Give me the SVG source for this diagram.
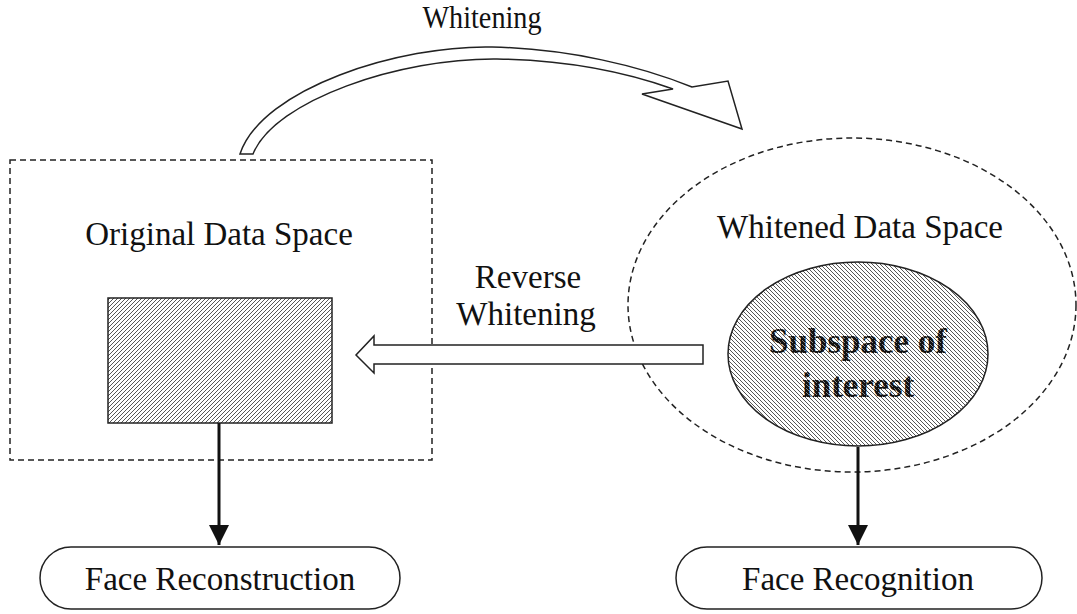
<svg xmlns="http://www.w3.org/2000/svg" width="1077" height="614" viewBox="0 0 1077 614">
<style>
text{font-family:"Liberation Serif","Times New Roman",serif;fill:#111;text-anchor:middle}
.t33{font-size:33px}
.t31{font-size:31px}
.bold{font-size:35px;font-weight:bold}
.dash{fill:none;stroke:#222;stroke-width:1.5;stroke-dasharray:6,4}
.outline{fill:#fff;stroke:#222;stroke-width:1.5}
.conn{stroke:#111;stroke-width:3;fill:none}
</style>
<defs>
<pattern id="hatchR" width="4" height="4" patternUnits="userSpaceOnUse">
<rect width="4" height="4" fill="#fff"/>
<path d="M-1,1 L1,-1 M0,4 L4,0 M3,5 L5,3" stroke="#444" stroke-width="0.9"/>
</pattern>
<pattern id="hatchL" width="4" height="4" patternUnits="userSpaceOnUse">
<rect width="4" height="4" fill="#fff"/>
<path d="M-1,3 L1,5 M0,0 L4,4 M3,-1 L5,1" stroke="#444" stroke-width="0.9"/>
</pattern>
<pattern id="textHatch" width="4" height="4" patternUnits="userSpaceOnUse">
<rect width="4" height="4" fill="#111"/>
<path d="M-1,1 L1,3 M1,-1 L5,3 M3,-1 L5,1" stroke="#fff" stroke-width="0.6" opacity="0.8"/>
</pattern>
<marker id="ah" markerWidth="20" markerHeight="20" viewBox="0 0 20 20" refX="20" refY="10" orient="auto" markerUnits="userSpaceOnUse">
<path d="M0,0 L20,10 L0,20 Z" fill="#111"/>
</marker>
</defs>

<g id="original-space">
<rect class="dash" x="10" y="160" width="422" height="300"/>
<text class="t33" x="219" y="245">Original Data Space</text>
</g>

<g id="original-subspace">
<rect x="108" y="298" width="224" height="125" fill="url(#hatchR)" stroke="#222" stroke-width="1.5"/>
</g>

<g id="whitened-space">
<ellipse class="dash" cx="852" cy="305" rx="224" ry="167"/>
<text class="t33" x="860" y="238">Whitened Data Space</text>
</g>

<g id="subspace-of-interest">
<ellipse cx="858" cy="354" rx="130" ry="92" fill="url(#hatchL)" stroke="#222" stroke-width="1.5"/>
<text class="bold" x="858" y="353" style="fill:url(#textHatch)">Subspace of</text>
<text class="bold" x="858" y="397" style="fill:url(#textHatch)">interest</text>
</g>

<g id="face-reconstruction">
<rect class="outline" x="40" y="547" width="360" height="62" rx="31" ry="31"/>
<text class="t33" x="220" y="590">Face Reconstruction</text>
</g>

<g id="face-recognition">
<rect class="outline" x="676" y="547" width="366" height="62" rx="31" ry="31"/>
<text class="t33" x="858" y="590">Face Recognition</text>
</g>

<g id="connectors">
<path d="M240,154 C262,88 400,45 492,47 C570,49 640,66 692,87 L728,81 L742,129 L642,94 L673,89 C620,70 560,60 497,59 C400,58 275,100 253,154 Z" fill="#fff" stroke="#222" stroke-width="1.5" stroke-linejoin="miter"/>
<text class="t31" x="482" y="28" textLength="119" lengthAdjust="spacingAndGlyphs">Whitening</text>
<path d="M703,345 L374,345 L374,336 L356,355 L374,373 L374,364 L703,364 Z" fill="#fff" stroke="#222" stroke-width="1.5"/>
<text class="t33" x="528" y="288">Reverse</text>
<text class="t33" x="526" y="325">Whitening</text>
<line class="conn" x1="219" y1="423" x2="219" y2="545" marker-end="url(#ah)"/>
<line class="conn" x1="858" y1="447" x2="858" y2="545" marker-end="url(#ah)"/>
</g>
</svg>
